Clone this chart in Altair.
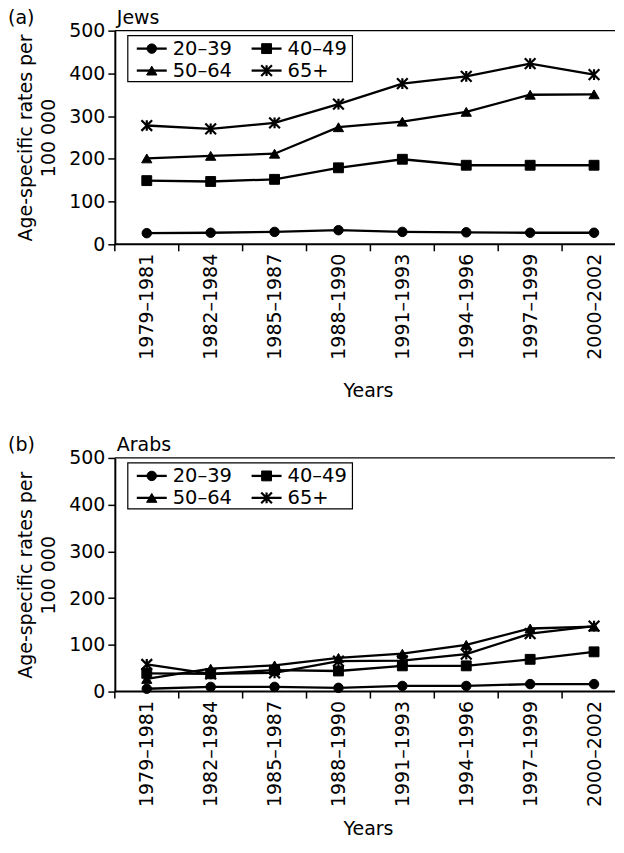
import json
import altair as alt
import pandas as pd

periods = ["1979–1981", "1982–1984", "1985–1987", "1988–1990",
           "1991–1993", "1994–1996", "1997–1999", "2000–2002"]
series = ["20–39", "40–49", "50–64", "65+"]

jews_20_39 = [26, 27, 29, 33, 29, 28, 27, 27]
jews_40_49 = [149, 147, 152, 179, 199, 185, 185, 185]
jews_50_64 = [201, 207, 212, 274, 287, 310, 350, 351]
jews_65 = [278, 270, 284, 328, 376, 393, 423, 397]

arabs_20_39 = [6, 10, 10, 8, 12, 12, 16, 16]
arabs_40_49 = [39, 38, 46, 44, 55, 55, 69, 85]
arabs_50_64 = [27, 49, 56, 72, 81, 100, 135, 139]
arabs_65 = [58, 38, 40, 65, 66, 80, 124, 140]

y_ticks = [0, 100, 200, 300, 400, 500]

FONT = "DejaVu Sans"
FS = 19
W = 501                      # visible plot width (the frame runs past the page edge)
X_DOMAIN = [-0.5, 7.328]     # 8 period slots of 64 px, the last one cut at the edge
TICK = 7
STAR = "M-1,-1L1,1M1,-1L-1,1M0,-1L0,1"
SHAPES = ["circle", "square", "triangle-up"]
SIZES = [90, 105, 125]
LABEL_EXPR = json.dumps(periods, ensure_ascii=False) + "[datum.value]"


def make_panel(tag, name, vals, height, title_pad):
    rows = []
    for s, v in zip(series, vals):
        for i, (p, r) in enumerate(zip(periods, v)):
            rows.append({"period": p, "idx": i, "series": s, "rate": r})
    df = pd.DataFrame(rows)

    xscale = alt.Scale(domain=X_DOMAIN, nice=False, zero=False)
    x = alt.X("idx:Q", scale=xscale,
              axis=alt.Axis(title="Years", values=list(range(len(periods))),
                            labelExpr=LABEL_EXPR, labelAngle=270, labelAlign="right",
                            labelBaseline="middle", ticks=False, domain=False,
                            labelFlush=False, labelOverlap=False,
                            labelPadding=TICK + 2, titlePadding=title_pad,
                            titleX=W / 2 + 3))
    y = alt.Y("rate:Q", scale=alt.Scale(domain=[0, 500], nice=False),
              axis=alt.Axis(values=y_ticks, title=["Age-specific rates per", "100 000"],
                            labelPadding=3, titlePadding=10, titleLineHeight=23))
    base = alt.Chart(df).encode(x=x, y=y)
    lines = base.mark_line(color="black", strokeWidth=2.3).encode(detail="series:N")
    shape_enc = alt.Shape("series:N", scale=alt.Scale(domain=series[:3], range=SHAPES),
                          legend=None)
    size_enc = alt.Size("series:N", scale=alt.Scale(domain=series[:3], range=SIZES),
                        legend=None)
    pts = base.transform_filter(alt.datum.series != "65+").mark_point(
        filled=True, color="black", stroke="black", strokeWidth=1, opacity=1
    ).encode(shape=shape_enc, size=size_enc)
    stars = base.transform_filter(alt.datum.series == "65+").mark_point(
        shape=STAR, filled=False, color="black", strokeWidth=2.2, size=115, opacity=1)

    # x ticks on the slot boundaries
    bdf = pd.DataFrame({"b": [i - 0.5 for i in range(len(periods))]})
    xticks = alt.Chart(bdf).mark_rule(color="black", strokeWidth=1.5).encode(
        x=alt.X("b:Q", scale=xscale), y=alt.value(height), y2=alt.value(height + TICK))

    one = pd.DataFrame({"a": [0]})
    border = alt.Chart(one).mark_rule(color="black", strokeWidth=1.3).encode(
        x=alt.value(0), x2=alt.value(W), y=alt.value(0))
    xdomain = alt.Chart(one).mark_rule(color="black", strokeWidth=2).encode(
        x=alt.value(0), x2=alt.value(W), y=alt.value(height))

    # legend
    ldf = pd.DataFrame({"series": series, "col": [0, 1, 0, 1], "row": [0, 0, 1, 1]})
    ldf["lx0"] = 22 + ldf["col"] * 115
    ldf["lx1"] = ldf["lx0"] + 30
    ldf["mx"] = ldf["lx0"] + 15
    ldf["tx"] = ldf["lx0"] + 36
    ldf["ly"] = 18 + ldf["row"] * 22
    box = alt.Chart(one).mark_rect(
        fill="white", stroke="black", strokeWidth=1.2).encode(
        x=alt.value(13), x2=alt.value(238), y=alt.value(5), y2=alt.value(51))
    lbase = alt.Chart(ldf).encode(y=alt.Y("ly:Q", scale=None, axis=None))
    lrules = lbase.mark_rule(color="black", strokeWidth=2.3).encode(
        x=alt.X("lx0:Q", scale=None, axis=None), x2="lx1:Q")
    lpts = lbase.transform_filter(alt.datum.series != "65+").mark_point(
        filled=True, color="black", stroke="black", strokeWidth=1, opacity=1
    ).encode(x=alt.X("mx:Q", scale=None, axis=None), shape=shape_enc, size=size_enc)
    lstar = lbase.transform_filter(alt.datum.series == "65+").mark_point(
        shape=STAR, filled=False, color="black", strokeWidth=2.2, size=115, opacity=1
    ).encode(x=alt.X("mx:Q", scale=None, axis=None))
    ltext = lbase.mark_text(align="left", baseline="middle", fontSize=19.5,
                            font=FONT, color="black").encode(
        x=alt.X("tx:Q", scale=None, axis=None), text="series:N")

    heads = alt.Chart(pd.DataFrame({"t": [tag, name], "hx": [-107, 2]})).mark_text(
        align="left", baseline="alphabetic", fontSize=FS, font=FONT, color="black"
    ).encode(x=alt.X("hx:Q", scale=None, axis=None), y=alt.value(-7), text="t:N")

    return alt.layer(border, xdomain, xticks, lines, pts, stars, box, lrules, lpts, lstar,
                     ltext, heads).properties(width=W, height=height)


pa = make_panel("(a)", "Jews", [jews_20_39, jews_40_49, jews_50_64, jews_65], 214, 22)
pb = make_panel("(b)", "Arabs", [arabs_20_39, arabs_40_49, arabs_50_64, arabs_65], 234, 13)

chart = alt.vconcat(pa, pb, spacing=35).properties(
    padding={"top": 0, "left": 0, "right": 0, "bottom": 0}
).configure_view(
    stroke=None
).configure_axis(
    labelFont=FONT, titleFont=FONT, labelFontSize=FS, titleFontSize=FS,
    labelColor="black", titleColor="black", titleFontWeight="normal",
    domainColor="black", domainWidth=2, tickColor="black", tickWidth=1.5,
    tickSize=TICK, grid=False,
)

chart.save("out.html", embed_options={"renderer": "svg", "actions": False})
